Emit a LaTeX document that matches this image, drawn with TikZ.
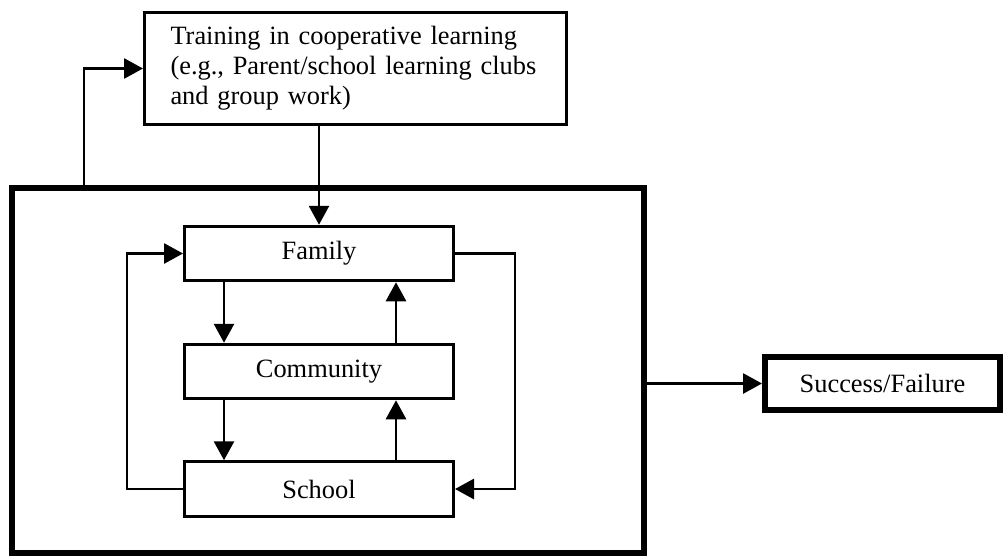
\documentclass[tikz,border=0pt]{standalone}
\usepackage{fontspec}
\setmainfont{Liberation Serif}
\usetikzlibrary{arrows.meta}

\tikzset{
  box/.style={draw, line width=1.6pt, minimum width=134.4pt, minimum height=27.15pt, inner sep=0pt},
  heavybox/.style={draw, line width=3pt, inner sep=0pt},
  link/.style={line width=1.4pt, -{Triangle[length=9.5pt,width=10pt]}},
}

\begin{document}
\begin{tikzpicture}[x=0.5pt, y=-0.5pt, font=\fontsize{13.2}{15}\selectfont]
\useasboundingbox (0,0) rectangle (1007,558);

% outer frame and result
\node [heavybox, minimum width=316pt, minimum height=182.5pt] (frame) at (328,370.5) {};
\node [heavybox, minimum width=117.5pt, minimum height=26.5pt] (success) at (882.5,383.5) {Success/Failure};

% training box
\node [draw, line width=1.6pt, minimum width=210.9pt, minimum height=55.9pt, text width=185pt,
       inner xsep=12.95pt, align=left] (train) at (355.5,68.5)
  {Training in cooperative learning\\(e.g., Parent/school learning clubs\\and group work)};

% the three partners
\foreach \name/\txt/\y in {family/Family/253.5, community/Community/371.5, school/School/489}{
\node [box] (\name) at (319,\y) {\txt};
}

\coordinate (dn) at (224,0);
\coordinate (up) at (396,0);
\coordinate (lft) at (127,0);
\coordinate (rgt) at (515,0);
\coordinate (tap) at (84,0);

\foreach \a/\b in {family/community, community/school}{
\draw [link] (\a.south -| dn) -- (\b.north -| dn);
\draw [link] (\b.north -| up) -- (\a.south -| up);
}

\draw [link] (school.west) -- (school.west -| lft) |- (family.west);
\draw [link] (family.east) -- (family.east -| rgt) |- (school.east);

\draw [link] (family.north |- train.south) -- (family.north);
\draw [link] (frame.north -| tap) |- (train.west);
\draw [link] (frame.east |- success.west) -- (success.west);

\end{tikzpicture}
\end{document}
